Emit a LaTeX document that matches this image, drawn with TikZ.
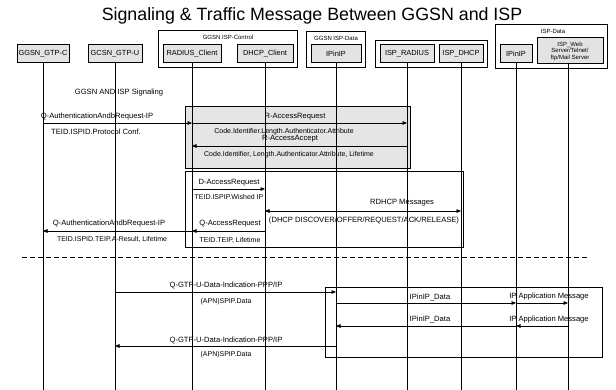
\documentclass[tikz,border=0pt]{standalone}
\usepackage{fontspec}
\setmainfont{Liberation Sans}
\usetikzlibrary{arrows.meta,fit}

\tikzset{
  entity/.style={draw,line width=1pt,fill=gray!22,minimum height=18pt,inner sep=1pt,font=\fontsize{7.4}{8}\selectfont},
  group/.style={draw,line width=0.6pt,inner sep=4pt},
  grplabel/.style={font=\fontsize{6}{7}\selectfont,inner sep=0pt},
  lifeline/.style={line width=0.7pt},
  msg/.style={-{Triangle[length=4.5pt,width=3.6pt]},line width=0.6pt},
  msgboth/.style={{Triangle[length=4.5pt,width=3.6pt]}-{Triangle[length=4.5pt,width=3.6pt]},line width=0.6pt},
  lbl/.style={font=\fontsize{7.6}{9}\selectfont,inner sep=0pt},
  sbox/.style={draw,line width=0.6pt,fill=gray!20},
  wbox/.style={draw,line width=0.6pt},
}

\begin{document}
\begin{tikzpicture}[x=1pt,y=-1pt]
\useasboundingbox (0,0) rectangle (616,390);
\pgfmathsetmacro{\boxy}{54}

\node (title) at (312,16) {\fontsize{17.8}{20}\selectfont Signaling \& Traffic Message Between GGSN and ISP};

\node[entity,minimum width=52pt] (gtpc) at (43,\boxy) {GGSN\_GTP-C};
\node[entity,minimum width=54pt] (gtpu) at (115,\boxy) {GCSN\_GTP-U};
\node[entity,minimum width=58pt] (rcl) at (192,\boxy) {RADIUS\_Client};
\node[entity,minimum width=56pt] (dcl) at (265,\boxy) {DHCP\_Client};
\node[entity,minimum width=50pt] (ipg) at (336,\boxy) {IPinIP};
\node[entity,minimum width=54pt] (israd) at (407,\boxy) {ISP\_RADIUS};
\node[entity,minimum width=44pt] (isdhcp) at (461,\boxy) {ISP\_DHCP};
\node[entity,minimum width=32pt] (ipi) at (516,\boxy) {IPinIP};
\node[entity,minimum width=66pt,minimum height=26pt,align=center,font=\fontsize{6}{6.5}\selectfont] (web) at (570,51) {ISP\_Web\\Server/Telnet/\\ftp/Mail Server};

\node[grplabel] (ctrllbl) at (228,37) {GGSN ISP-Control};
\node[grplabel] (datalbl) at (336,38) {GGSN ISP-Data};
\node[grplabel] (isplbl) at (553,31) {ISP-Data};
\node[group,fit=(ctrllbl)(rcl)(dcl)] (ctrl) {};
\node[group,fit=(datalbl)(ipg)] (gdata) {};
\node[group,fit=(israd)(isdhcp)] (isp) {};
\node[group,fit=(isplbl)(ipi)(web),inner sep=4pt] (idata) {};

\draw[sbox] (185,106) rectangle (410,168);
\draw[wbox] (185,171) rectangle (463,247);
\draw[wbox] (325,287) rectangle (602,357);

\coordinate (bottom) at (0,390);
\foreach \n in {gtpc,gtpu,rcl,dcl,ipg,israd,isdhcp,ipi}
  \draw[lifeline] (\n.south) -- (\n.south |- bottom);
\draw[lifeline] (web.south -| 568,0) -- (bottom -| 568,0);

\node[lbl] (sig) at (119,93) {GGSN AND ISP Signaling};

\coordinate (r1) at (0,123);
\coordinate (r2) at (0,146);
\coordinate (r3) at (0,189);
\coordinate (r4) at (0,211);
\coordinate (r5) at (0,231);
\coordinate (r6) at (0,292);
\coordinate (r7) at (0,303);
\coordinate (r8) at (0,326);
\coordinate (r9) at (0,346);
\coordinate (webl) at (568,0);

\draw[msg] (gtpc |- r1) -- (rcl |- r1);
\node[lbl] (authreq) at (97,117) {Q-AuthenticationAndbRequest-IP};
\node[lbl] (authreqp) at (96,132) {TEID.ISPID.Protocol Conf.};

\draw[msg] (rcl |- r1) -- (israd |- r1);
\node[lbl] (accreq) at (295,117) {R-AccessRequest};
\node[lbl,font=\fontsize{7}{8}\selectfont] (accreqp) at (284,132) {Code.Identifier.Length.Authenticator.Attribute};
\node[lbl] (accacc) at (290,139) {R-AccessAccept};
\draw[msg] (israd |- r2) -- (rcl |- r2);
\node[lbl,font=\fontsize{7}{8}\selectfont] (accaccp) at (289,155) {Code.Identifier, Length.Authenticator.Attribute, Lifetime};

\draw[msg] (rcl |- r3) -- (dcl |- r3);
\node[lbl] (dreq) at (229,183) {D-AccessRequest};
\node[lbl,font=\fontsize{7}{8}\selectfont] (dreqp) at (229,197) {TEID.ISPIP.Wished IP};

\draw[msgboth] (dcl |- r4) -- (isdhcp |- r4);
\node[lbl] (rdhcp) at (402,203) {RDHCP Messages};
\node[lbl] (rdhcpp) at (364,221) {(DHCP DISCOVER/OFFER/REQUEST/ACK/RELEASE)};

\draw[msg] (dcl |- r5) -- (rcl |- r5);
\node[lbl] (qreq) at (230,224) {Q-AccessRequest};
\node[lbl,font=\fontsize{7}{8}\selectfont] (qreqp) at (230,240) {TEID.TEIP, Lifetime};
\draw[msg] (rcl |- r5) -- (gtpc |- r5);
\node[lbl] (authrsp) at (109,224) {Q-AuthenticationAndbRequest-IP};
\node[lbl,font=\fontsize{7}{8}\selectfont] (authrspp) at (112,239) {TEID.ISPID.TEIP.A-Result, Lifetime};

\draw[dashed,line width=0.8pt,dash pattern=on 5pt off 3pt] (22,257) -- (587,257);

\draw[msg] (gtpu |- r6) -- (ipg |- r6);
\node[lbl] (gtpind) at (226,285) {Q-GTP-U-Data-Indication-PPP/IP};
\node[lbl,font=\fontsize{7}{8}\selectfont] (gtpindp) at (226,302) {(APN)SPIP.Data};

\draw[msg] (ipg |- r7) -- (ipi |- r7);
\node[lbl] (ipdata) at (430,298) {IPinIP\_Data};
\draw[msg] (ipi |- r7) -- (webl |- r7);
\node[lbl] (appmsg) at (549,297) {IP Application Message};

\draw[msg] (webl |- r8) -- (ipi |- r8);
\node[lbl] (appmsgb) at (549,320) {IP Application Message};
\draw[msg] (ipi |- r8) -- (ipg |- r8);
\node[lbl] (ipdatab) at (430,320) {IPinIP\_Data};

\draw[msg] (ipg |- r9) -- (gtpu |- r9);
\node[lbl] (gtpindb) at (226,340) {Q-GTP-U-Data-Indication-PPP/IP};
\node[lbl,font=\fontsize{7}{8}\selectfont] (gtpindbp) at (226,355) {(APN)SPIP.Data};

\end{tikzpicture}
\end{document}
